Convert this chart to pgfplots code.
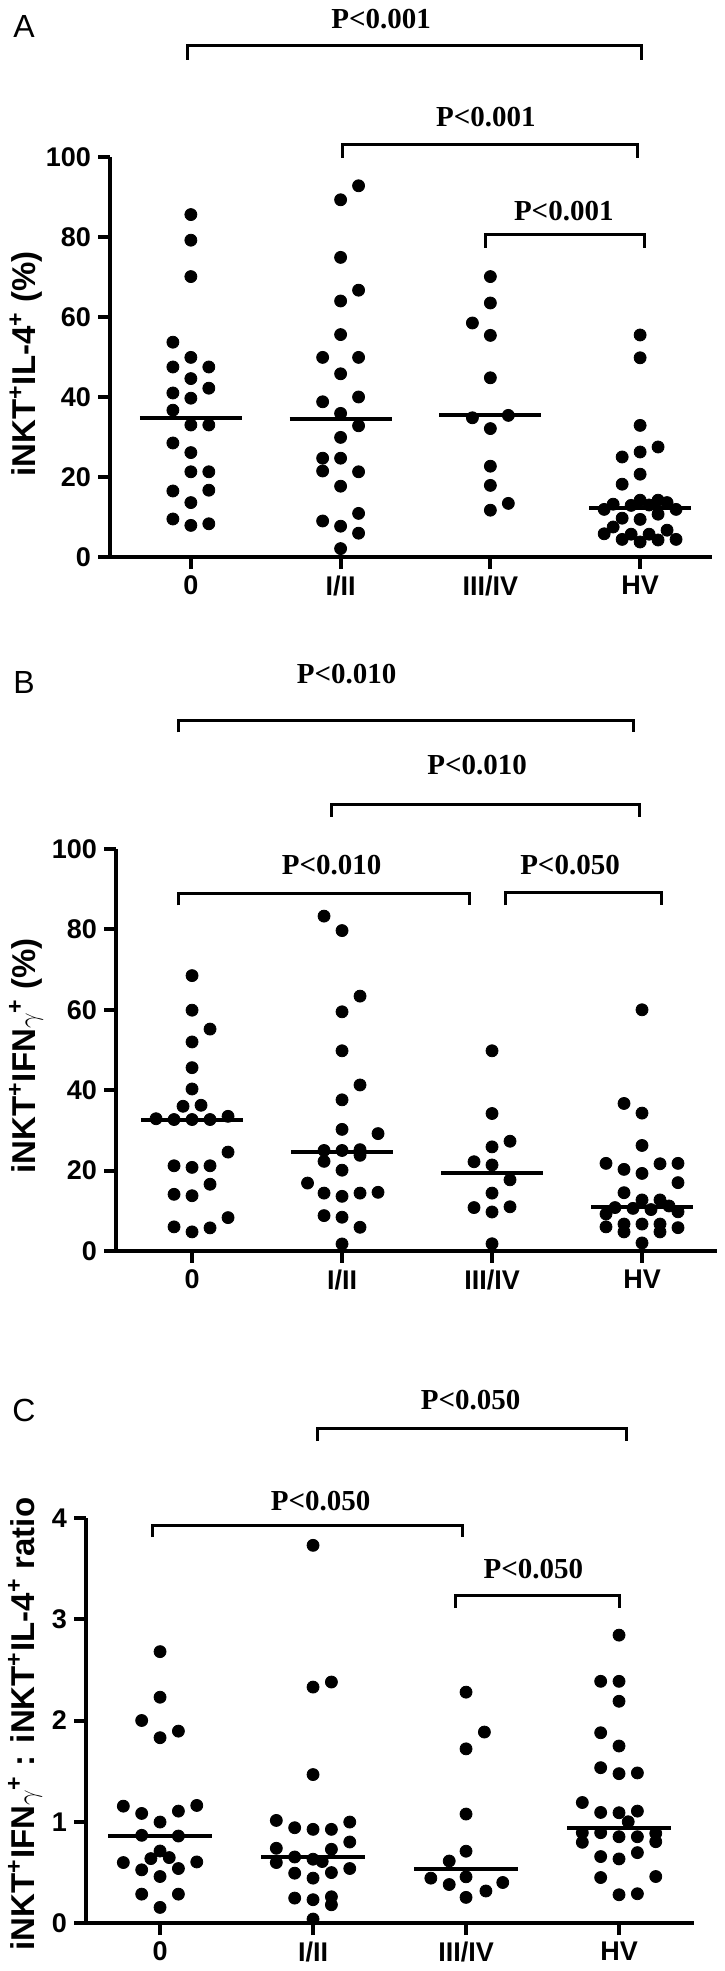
\documentclass[border=0pt]{standalone}
\usepackage{pgfplots}
\pgfplotsset{compat=1.18}
\usepackage{fontspec}
\setmainfont{Liberation Sans}
\newfontfamily\pfont{Liberation Serif}

\pgfplotsset{
 dotplot/.style={
  scale only axis, clip=false,
  axis x line*=bottom, axis y line*=left,
  axis line style={line width=2pt},
  tick align=outside, major tick length=6pt,
  tick style={line width=2pt, black},
  xtick={0,1,2,3}, xticklabels={0,I/II,III/IV,HV},
  tick label style={font=\bfseries\fontsize{13.5}{13.5}\selectfont},
  /pgf/number format/assume math mode=true,
  ymin=0,
 },
 pts/.style={only marks, mark=*, mark size=3pt, black},
 med/.style={black, line width=2pt, mark=none},
 brk/.style={black, line width=1.5pt, mark=none},
}
\tikzset{pval/.style={font=\pfont\bfseries\fontsize{14.5}{14.5}\selectfont}}
\newcommand{\ylab}{\bfseries\fontsize{16.5}{16.5}\selectfont}
\newcommand{\gam}{\raisebox{-0.15ex}{\scalebox{0.8}{$\gamma$}}}

\begin{document}
\begin{tikzpicture}
\useasboundingbox (0,0) rectangle (362pt,985.5pt);

% ---------------- Panel A ----------------
\begin{axis}[dotplot, at={(55pt,707pt)}, anchor=south west,
  width=301pt, height=200pt, xmin=-0.54, xmax=3.48, ymax=100,
  ytick={0,20,40,60,80,100}]
\addplot[pts] coordinates {(0,85.6) (0,79.2) (0,70.1) (-0.12,53.7) (-0.12,47.5) (0,49.9) (0.12,47.5) (0,44.6) (0.12,42.2) (-0.12,41.0) (0,39.7) (-0.12,36.7) (0,33.0) (0.12,33.0) (-0.12,28.5) (0,26.1) (0,21.3) (0.12,21.3) (-0.12,16.5) (0.12,16.7) (0,13.6) (-0.12,9.5) (0,7.9) (0.12,8.3)};
\addplot[pts] coordinates {(1,2.1) (1,7.7) (0.88,9.0) (1.12,5.95) (1.12,10.9) (1,17.7) (0.88,21.5) (1.12,21.3) (0.88,24.7) (1,24.7) (1,29.9) (1.12,32.8) (1,35.9) (0.88,38.8) (1.12,40.0) (1,45.8) (0.88,49.9) (1.12,49.9) (1,55.6) (1,64.0) (1.12,66.7) (1,74.9) (1,89.3) (1.12,92.8)};
\addplot[pts] coordinates {(2,70.1) (2,63.5) (1.88,58.5) (2,55.4) (2,44.8) (1.88,34.8) (2.12,35.4) (2,32.1) (2,22.7) (2,17.9) (2.12,13.4) (2,11.7)};
\addplot[pts] coordinates {(3,55.5) (3,49.8) (3,32.9) (3.12,27.5) (2.88,25.0) (3,26.25) (3,20.7) (2.88,18.2) (2.76,11.9) (2.82,13.2) (2.94,12.9) (3,14.2) (3.06,13.0) (3.12,14.2) (3.18,13.6) (3.24,11.9) (3.12,10.7) (2.88,9.7) (3,9.4) (2.82,7.5) (2.76,5.8) (2.88,4.4) (2.94,5.7) (3,3.75) (3.06,5.7) (3.12,4.25) (3.18,6.7) (3.24,4.4)};
\addplot[med] coordinates {(-0.34,34.8) (0.34,34.8)};
\addplot[med] coordinates {(0.66,34.4) (1.34,34.4)};
\addplot[med] coordinates {(1.66,35.4) (2.34,35.4)};
\addplot[med] coordinates {(2.66,12.2) (3.34,12.2)};
\addplot[brk] coordinates {(-0.02,124.3) (-0.02,127.8) (3.01,127.8) (3.01,124.3)};
\addplot[brk] coordinates {(1.01,99.8) (1.01,103) (2.98,103) (2.98,99.8)};
\addplot[brk] coordinates {(1.97,77.3) (1.97,80.5) (3.03,80.5) (3.03,77.3)};
\node[pval] at (axis cs:1.27,134.5) {P<0.001};
\node[pval] at (axis cs:1.97,110) {P<0.001};
\node[pval] at (axis cs:2.49,86.5) {P<0.001};
\end{axis}

% ---------------- Panel B ----------------
\begin{axis}[dotplot, at={(58pt,360pt)}, anchor=south west,
  width=300.5pt, height=201pt, xmin=-0.507, xmax=3.5, ymax=100,
  ytick={0,20,40,60,80,100}]
\addplot[pts] coordinates {(0,68.5) (0,59.9) (0.12,55.2) (0,52.0) (0,45.6) (0,40.3) (-0.06,36.0) (0.06,36.25) (-0.24,32.9) (-0.12,32.7) (0,32.7) (0.12,32.7) (0.24,33.5) (0.24,24.6) (-0.12,21.2) (0,20.8) (0.12,21.2) (0.12,16.6) (-0.12,14.1) (0,13.75) (0.24,8.3) (-0.12,6.0) (0,4.75) (0.12,5.75)};
\addplot[pts] coordinates {(0.88,83.3) (1,79.7) (1.12,63.4) (1,59.5) (1,49.8) (1.12,41.3) (1,37.6) (1,30.25) (1.24,29.2) (0.88,25.0) (1,25.0) (1.12,25.2) (1.12,23.8) (0.88,22.3) (1,20.1) (0.77,16.9) (0.88,14.4) (1,13.6) (1.12,14.4) (1.24,14.6) (0.88,8.8) (1,8.4) (1.12,5.9) (1,1.75)};
\addplot[pts] coordinates {(2,49.8) (2,34.2) (2.12,27.3) (2,25.9) (1.88,22.2) (2,21.4) (2.12,17.7) (2,14.4) (1.88,10.8) (2,9.7) (2.12,11.0) (2,1.8)};
\addplot[pts] coordinates {(3,60.0) (2.88,36.7) (3,34.3) (3,26.25) (2.76,21.8) (3.12,21.7) (3.24,21.8) (2.88,20.3) (3,19.3) (3.24,17.0) (2.88,14.5) (2.82,10.8) (3,12.7) (3.12,12.7) (2.94,10.6) (3.06,10.3) (3.18,11.2) (2.76,9.2) (3.24,9.75) (2.76,6.0) (2.88,6.7) (2.88,4.75) (3,6.7) (3.12,6.7) (3.12,4.75) (3.24,5.8) (3,2.0)};
\addplot[med] coordinates {(-0.34,32.7) (0.34,32.7)};
\addplot[med] coordinates {(0.66,24.6) (1.34,24.6)};
\addplot[med] coordinates {(1.66,19.5) (2.34,19.5)};
\addplot[med] coordinates {(2.66,11.0) (3.34,11.0)};
\addplot[brk] coordinates {(-0.09,129) (-0.09,132) (2.94,132) (2.94,129)};
\addplot[brk] coordinates {(0.93,108) (0.93,111) (2.98,111) (2.98,108)};
\addplot[brk] coordinates {(-0.09,86) (-0.09,89) (1.85,89) (1.85,86)};
\addplot[brk] coordinates {(2.09,86) (2.09,89.3) (3.13,89.3) (3.13,86)};
\node[pval] at (axis cs:1.03,143.5) {P<0.010};
\node[pval] at (axis cs:1.9,121) {P<0.010};
\node[pval] at (axis cs:0.93,96) {P<0.010};
\node[pval] at (axis cs:2.52,96) {P<0.050};
\end{axis}

% ---------------- Panel C ----------------
\begin{axis}[dotplot, at={(43pt,24pt)}, anchor=south west,
  width=304pt, height=202.5pt, xmin=-0.484, xmax=3.49, ymax=4,
  ytick={0,1,2,3,4}]
\addplot[pts] coordinates {(0,2.68) (0,2.23) (-0.12,2.0) (0,1.83) (0.12,1.895) (-0.24,1.154) (-0.12,1.082) (0,0.997) (0.12,1.105) (0.24,1.161) (-0.12,0.866) (0.12,0.859) (0,0.711) (-0.06,0.636) (0.06,0.646) (-0.24,0.597) (0.24,0.603) (-0.12,0.525) (0.12,0.538) (0,0.459) (-0.12,0.285) (0.12,0.285) (0,0.154)};
\addplot[pts] coordinates {(1,3.73) (1.12,2.38) (1,2.33) (1,1.466) (0.76,1.013) (0.88,0.941) (1,0.925) (1.12,0.925) (1.24,0.997) (1.24,0.8) (0.76,0.738) (1.12,0.728) (0.88,0.652) (1,0.63) (1.06,0.607) (0.76,0.597) (1.24,0.538) (0.88,0.492) (1.12,0.498) (1,0.443) (0.88,0.246) (1,0.23) (1.12,0.259) (1.12,0.18) (1,0.039)};
\addplot[pts] coordinates {(2,2.28) (2.12,1.886) (2,1.72) (2,1.076) (2,0.709) (1.89,0.612) (1.77,0.443) (2,0.456) (1.89,0.38) (2.24,0.40) (2.13,0.316) (2,0.253)};
\addplot[pts] coordinates {(3,2.843) (2.88,2.387) (3,2.387) (3,2.19) (2.88,1.879) (3,1.748) (2.88,1.534) (3,1.475) (3.12,1.482) (2.76,1.19) (2.88,1.092) (3,1.089) (3.12,1.105) (3.06,1.0) (2.76,0.892) (2.76,0.797) (2.88,0.892) (3,0.852) (3.12,0.852) (3.24,0.885) (3.24,0.803) (2.88,0.656) (3,0.633) (3.12,0.695) (2.88,0.449) (3.24,0.459) (3,0.279) (3.12,0.289)};
\addplot[med] coordinates {(-0.34,0.859) (0.34,0.859)};
\addplot[med] coordinates {(0.66,0.655) (1.34,0.655)};
\addplot[med] coordinates {(1.66,0.536) (2.34,0.536)};
\addplot[med] coordinates {(2.66,0.934) (3.34,0.934)};
\addplot[brk] coordinates {(1.03,4.76) (1.03,4.88) (3.05,4.88) (3.05,4.76)};
\addplot[brk] coordinates {(-0.05,3.81) (-0.05,3.93) (1.98,3.93) (1.98,3.81)};
\addplot[brk] coordinates {(1.93,3.11) (1.93,3.23) (3.0,3.23) (3.0,3.11)};
\node[pval] at (axis cs:2.03,5.16) {P<0.050};
\node[pval] at (axis cs:1.05,4.17) {P<0.050};
\node[pval] at (axis cs:2.44,3.5) {P<0.050};
\end{axis}

% panel letters and y labels
\node[font=\fontsize{16}{16}\selectfont] at (12pt,972pt) {A};
\node[font=\fontsize{16}{16}\selectfont] at (12pt,644pt) {B};
\node[font=\fontsize{16}{16}\selectfont] at (12pt,280.5pt) {C};
\node[rotate=90, font=\ylab] at (13pt,803.5pt) {iNKT\textsuperscript{+}IL-4\textsuperscript{+} (\%)};
\node[rotate=90, font=\ylab] at (13pt,457.5pt) {iNKT\textsuperscript{+}IFN\gam\textsuperscript{+} (\%)};
\node[rotate=90, font=\ylab] at (12.5pt,123.5pt) {iNKT\textsuperscript{+}IFN\gam\textsuperscript{+} : iNKT\textsuperscript{+}IL-4\textsuperscript{+} ratio};
\end{tikzpicture}
\end{document}
